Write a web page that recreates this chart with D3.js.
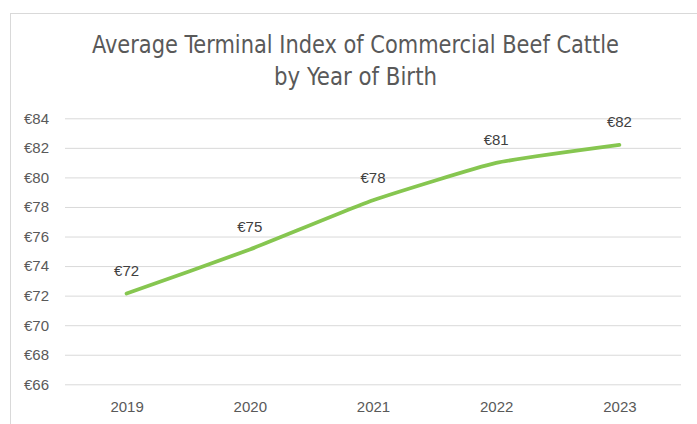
<!DOCTYPE html>
<html>
<head>
<meta charset="utf-8">
<script src="https://cdn.jsdelivr.net/npm/d3@7"></script>
<style>
  html, body { margin: 0; padding: 0; background: #fff; }
  svg { display: block; }
</style>
</head>
<body>
<svg id="chart" width="697" height="424"></svg>
<script>
// Average terminal index (€) by year of birth
const years = ["2019", "2020", "2021", "2022", "2023"];
const indexValues = [72.14, 75.12, 78.45, 80.98, 82.2];
const yTicks = [66, 68, 70, 72, 74, 76, 78, 80, 82, 84];
const titleLines = ["Average Terminal Index of Commercial Beef Cattle", "by Year of Birth"];
const titleWidths = [527, 163];

const svg = d3.select("#chart");
const W = 697, H = 424;
const plot = { left: 65, right: 681, top: 118.3, bottom: 384.3 };

// chart area frame
svg.append("rect")
  .attr("x", 10.5).attr("y", 13.5)
  .attr("width", W + 20).attr("height", H + 20)
  .attr("fill", "#fff").attr("stroke", "#d9d9d9").attr("stroke-width", 1);

// title, two centred lines
svg.append("g")
  .selectAll("text")
  .data(titleLines)
  .join("text")
  .attr("x", 355.5)
  .attr("y", (d, i) => 53 + i * 32)
  .attr("fill", "#595959")
  .attr("font-family", "'DejaVu Sans Condensed', 'Liberation Sans', sans-serif")
  .attr("font-size", 25)
  .attr("text-anchor", "middle")
  .attr("textLength", (d, i) => titleWidths[i])
  .attr("lengthAdjust", "spacingAndGlyphs")
  .text(d => d);

const x = d3.scalePoint().domain(years).range([plot.left, plot.right]).padding(0.5);
const y = d3.scaleLinear().domain([66, 84]).range([plot.bottom, plot.top]);

// horizontal gridlines + y labels
const yAxis = d3.axisLeft(y)
  .tickValues(yTicks)
  .tickSize(-(plot.right - plot.left))
  .tickPadding(16)
  .tickFormat(d => "€" + d);
const gy = svg.append("g")
  .attr("transform", `translate(${plot.left},0)`)
  .call(yAxis);
gy.select(".domain").remove();
gy.selectAll(".tick line").attr("stroke", "#d9d9d9").attr("stroke-width", 1);
gy.selectAll(".tick text")
  .attr("fill", "#595959")
  .attr("font-family", "'Liberation Sans', Arial, sans-serif")
  .attr("font-size", 15);

// x labels
const xAxis = d3.axisBottom(x).tickSize(0).tickPadding(17);
const gx = svg.append("g")
  .attr("transform", `translate(0,${plot.bottom})`)
  .call(xAxis);
gx.select(".domain").remove();
gx.selectAll(".tick text")
  .attr("fill", "#595959")
  .attr("font-family", "'Liberation Sans', Arial, sans-serif")
  .attr("font-size", 15);

// lightly smoothed series line
const pts = years.map((yr, i) => ({ yr, v: indexValues[i] }));
const line = d3.line()
  .x(d => x(d.yr))
  .y(d => y(d.v))
  .curve(d3.curveCardinal.tension(0.55));
svg.append("path")
  .datum(pts)
  .attr("d", line)
  .attr("fill", "none")
  .attr("stroke", "#86c650")
  .attr("stroke-width", 3.8)
  .attr("stroke-linecap", "round")
  .attr("stroke-linejoin", "round");

// data labels
const fmt = d3.format(".0f");
svg.append("g")
  .selectAll("text")
  .data(pts)
  .join("text")
  .attr("x", d => x(d.yr))
  .attr("y", d => y(d.v) - 17.5)
  .attr("text-anchor", "middle")
  .attr("fill", "#404040")
  .attr("font-family", "'Liberation Sans', Arial, sans-serif")
  .attr("font-size", 15)
  .text(d => "€" + fmt(d.v));
</script>
</body>
</html>
